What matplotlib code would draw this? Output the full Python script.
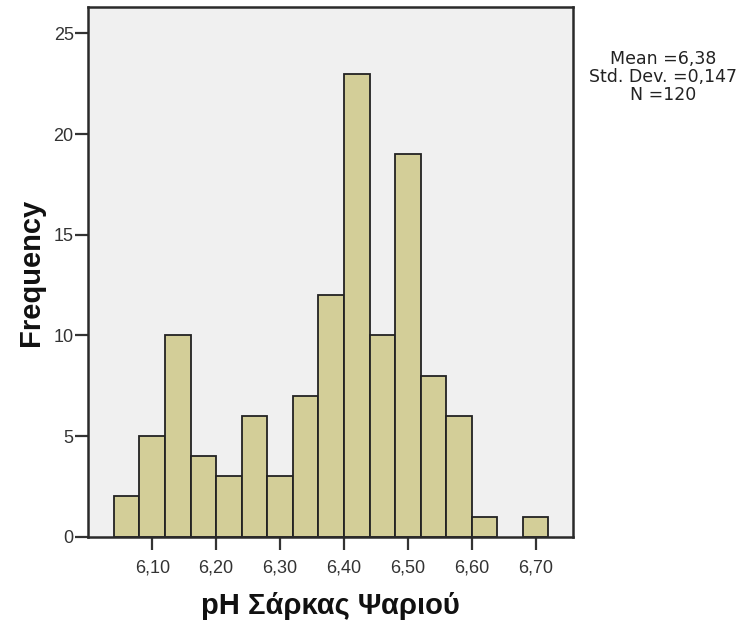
import matplotlib
matplotlib.use("Agg")
import matplotlib.pyplot as plt
import numpy as np

bin_edges = [6.04, 6.08, 6.12, 6.16, 6.20, 6.24, 6.28, 6.32, 6.36, 6.40,
             6.44, 6.48, 6.52, 6.56, 6.60, 6.64, 6.68, 6.72]
counts = [2, 5, 10, 4, 3, 6, 3, 7, 12, 23, 10, 19, 8, 6, 1, 0, 1]
x_ticks = [6.10, 6.20, 6.30, 6.40, 6.50, 6.60, 6.70]
x_tick_labels = ["6,10", "6,20", "6,30", "6,40", "6,50", "6,60", "6,70"]
y_ticks = [0, 5, 10, 15, 20, 25]
stats_text = "Mean =6,38\nStd. Dev. =0,147\nN =120"

plt.rcParams['font.family'] = ['Liberation Sans', 'DejaVu Sans']

fig = plt.figure(figsize=(7.44, 6.34), dpi=100)
ax = fig.add_axes([0.1187, 0.1535, 0.6511, 0.835])
ax.set_facecolor('#F0F0F0')

lefts = np.array(bin_edges[:-1])
widths = np.diff(bin_edges)
for l, w, c in zip(lefts, widths, counts):
    if c > 0:
        ax.bar(l, c, width=w, align='edge', color='#D3CE98',
               edgecolor='#222222', linewidth=1.3)

ax.set_xlim(6.0, 6.758)
ax.set_ylim(0, 26.3)
ax.set_xticks(x_ticks)
ax.set_xticklabels(x_tick_labels)
ax.set_yticks(y_ticks)
ax.tick_params(axis='both', direction='out', length=9.5, width=1.6,
               labelsize=13, colors='#333333', labelcolor='#333333')
ax.tick_params(axis='x', pad=7)
ax.tick_params(axis='y', pad=1)
for s in ax.spines.values():
    s.set_linewidth(1.8)
    s.set_color('#2a2a2a')

ax.set_xlabel('pH Σάρκας Ψαριού', fontsize=21, fontweight='bold', labelpad=11,
              color='#111111')
ax.set_ylabel('Frequency', fontsize=21, fontweight='bold', labelpad=6,
              color='#111111')

fig.text(0.891, 0.878, stats_text, ha='center', va='center', fontsize=12.5,
         color='#222222', linespacing=1.0, family='DejaVu Sans')

fig.savefig('out.png', dpi=100, facecolor='white')
